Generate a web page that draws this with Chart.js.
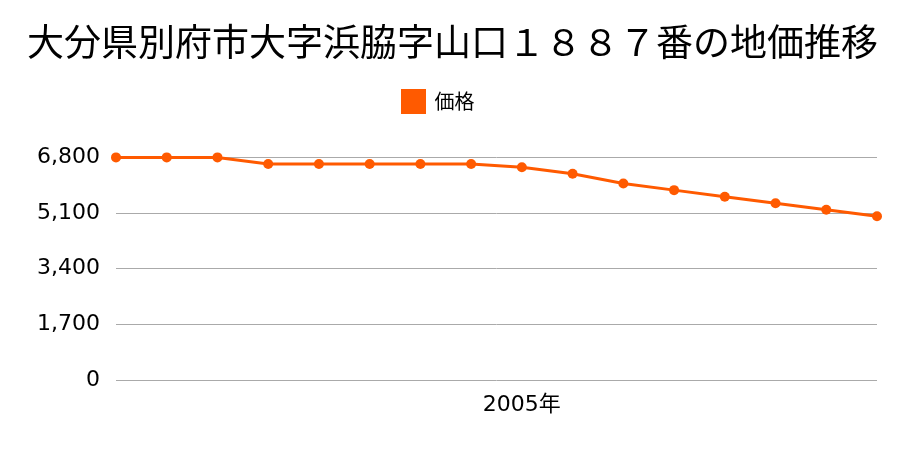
<!DOCTYPE html>
<html lang="ja">
<head>
<meta charset="utf-8">
<title>地価推移</title>
<script src="https://cdn.jsdelivr.net/npm/chart.js@4.4.1/dist/chart.umd.min.js"></script>
<style>
  html, body { margin: 0; padding: 0; background: #fff; }
  #wrap { width: 900px; height: 450px; }
</style>
</head>
<body>
<div id="wrap"><canvas id="priceChart" width="900" height="450"></canvas></div>
<script>
/* ===== 地価推移チャート ===== */

const years = ['1997年', '1998年', '1999年', '2000年', '2001年', '2002年', '2003年', '2004年',
  '2005年', '2006年', '2007年', '2008年', '2009年', '2010年', '2011年', '2012年'];
const prices = [6800, 6800, 6800, 6600, 6600, 6600, 6600, 6600,
  6500, 6300, 6000, 5800, 5600, 5400, 5200, 5000];
const shownYear = '2005年';
const yTicks = [0, 1700, 3400, 5100, 6800];

const titleText = '大分県別府市大字浜脇字山口１８８７番の地価推移';
const seriesName = '価格';
const lineColor = '#ff5a00';
const cjkFont = '"Noto Sans CJK JP", sans-serif';
const tickFont = '"DejaVu Sans", "Noto Sans CJK JP", sans-serif';

// extra room under the legend, title centred on the full canvas
const layoutTweaks = {
  id: 'layoutTweaks',
  beforeInit(chart) {
    const fit = chart.legend.fit;
    chart.legend.fit = function () {
      fit.bind(this)();
      this.height += 35;
    };
  },
  afterLayout(chart) {
    if (chart.titleBlock) chart.titleBlock.right += 28;
  }
};

document.addEventListener('DOMContentLoaded', () => {
  const ctx = document.getElementById('priceChart').getContext('2d');

  new Chart(ctx, {
    type: 'line',
    data: {
      labels: years,
      datasets: [{
        label: seriesName,
        data: prices,
        borderColor: lineColor,
        backgroundColor: lineColor,
        borderWidth: 3,
        pointRadius: 5,
        pointHoverRadius: 5,
        pointBorderWidth: 0,
        tension: 0,
        clip: false
      }]
    },
    options: {
      responsive: false,
      animation: false,
      layout: { padding: { left: 0, right: 23, top: 0, bottom: 20 } },
      plugins: {
        title: {
          display: true,
          text: titleText,
          color: '#000',
          font: { family: cjkFont, size: 37, weight: 'normal' },
          padding: { top: 20, bottom: 16 }
        },
        legend: {
          position: 'top',
          labels: {
            color: '#000',
            boxWidth: 22,
            boxHeight: 22,
            font: { family: cjkFont, size: 20 },
            padding: 10
          }
        },
        tooltip: { enabled: false }
      },
      scales: {
        x: {
          offset: false,
          grid: { display: false, drawTicks: false },
          border: { display: false },
          ticks: {
            color: '#000',
            font: { family: tickFont, size: 22 },
            padding: 12,
            autoSkip: false,
            maxRotation: 0,
            callback: function (value) {
              const lbl = this.getLabelForValue(value);
              return lbl === shownYear ? lbl : '';
            }
          },
          afterFit: (s) => { s.height = 50; }
        },
        y: {
          min: 0,
          max: 6800,
          afterBuildTicks: (s) => { s.ticks = yTicks.map(v => ({ value: v })); },
          grid: { color: '#aaaaaa', lineWidth: 1, drawTicks: false },
          border: { display: false },
          ticks: {
            color: '#000',
            font: { family: tickFont, size: 22 },
            padding: 16,
            callback: (v) => v.toLocaleString('en-US')
          },
          afterFit: (s) => { s.width = 116; }
        }
      }
    },
    plugins: [layoutTweaks]
  });
});
</script>
</body>
</html>
